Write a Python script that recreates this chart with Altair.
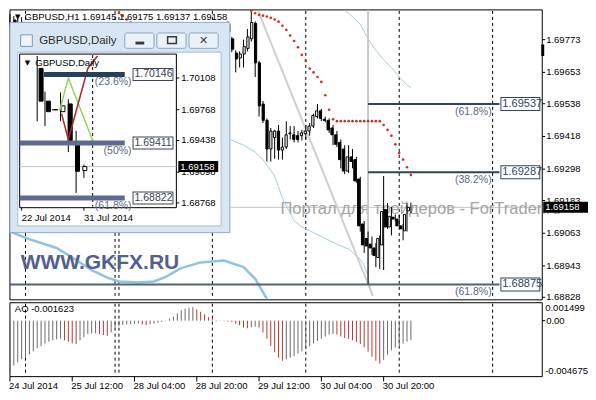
import altair as alt
import pandas as pd
import numpy as np

W, H = 580, 384
SX, SY = W / 596.0, H / 400.0
def px(v): return round(v * SX, 2)
def py(v): return round(v * SY, 2)
FONT = "Liberation Sans"

# ---------------- main H1 chart data ----------------
bar_idx = [0, 1, 2, 3] + list(range(56, 104))
opens = [1.69845, 1.69830, 1.69815, 1.69835,
         1.69829, 1.69776, 1.69724, 1.69706, 1.69720, 1.69741, 1.69776, 1.69833, 1.69688, 1.69537,
         1.69477, 1.69372, 1.69414, 1.69438, 1.69368, 1.69379, 1.69428, 1.69424, 1.69421, 1.69421,
         1.69428, 1.69438, 1.69456, 1.69491, 1.69512, 1.69481, 1.69477, 1.69449, 1.69424, 1.69396,
         1.69372, 1.69291, 1.69343, 1.69333, 1.69262, 1.69097, 1.69044, 1.69023, 1.69009, 1.68974,
         1.69020, 1.69150, 1.69086, 1.69122, 1.69115, 1.69090, 1.69072, 1.69145]
highs = [1.69868, 1.69860, 1.69850, 1.69855,
         1.69840, 1.69783, 1.69734, 1.69730, 1.69773, 1.69812, 1.69879, 1.69840, 1.69695, 1.69548,
         1.69484, 1.69449, 1.69442, 1.69460, 1.69414, 1.69474, 1.69456, 1.69456, 1.69438, 1.69442,
         1.69460, 1.69467, 1.69502, 1.69537, 1.69519, 1.69491, 1.69484, 1.69460, 1.69438, 1.69407,
         1.69386, 1.69386, 1.69372, 1.69343, 1.69270, 1.69108, 1.69069, 1.69051, 1.69027, 1.69055,
         1.69273, 1.69174, 1.69160, 1.69132, 1.69132, 1.69097, 1.69174, 1.69175]
lows = [1.69820, 1.69800, 1.69790, 1.69770,
        1.69790, 1.69727, 1.69653, 1.69671, 1.69671, 1.69730, 1.69766, 1.69636, 1.69491, 1.69467,
        1.69326, 1.69326, 1.69336, 1.69333, 1.69333, 1.69372, 1.69407, 1.69396, 1.69396, 1.69403,
        1.69407, 1.69421, 1.69449, 1.69484, 1.69474, 1.69470, 1.69431, 1.69386, 1.69379, 1.69301,
        1.69280, 1.69284, 1.69301, 1.69248, 1.69069, 1.68991, 1.68875, 1.68984, 1.68939, 1.68932,
        1.68928, 1.69079, 1.69055, 1.69108, 1.69086, 1.69037, 1.69069, 1.69137]
closes = [1.69830, 1.69815, 1.69835, 1.69785,
          1.69801, 1.69738, 1.69702, 1.69720, 1.69748, 1.69783, 1.69836, 1.69688, 1.69530, 1.69477,
          1.69372, 1.69438, 1.69438, 1.69368, 1.69379, 1.69424, 1.69431, 1.69407, 1.69407, 1.69431,
          1.69438, 1.69456, 1.69495, 1.69512, 1.69484, 1.69477, 1.69442, 1.69424, 1.69389, 1.69333,
          1.69291, 1.69343, 1.69326, 1.69255, 1.69090, 1.69020, 1.69016, 1.69009, 1.68981, 1.69044,
          1.69143, 1.69086, 1.69125, 1.69115, 1.69090, 1.69079, 1.69132, 1.69158]

sar_idx = [28, 29, 30, 31] + list(range(62, 104))
sar_val = [1.69871, 1.69861, 1.69847, 1.69836,
           1.69879, 1.69870, 1.69864, 1.69861, 1.69858, 1.69853, 1.69847, 1.69839, 1.69824, 1.69809,
           1.69788, 1.69768, 1.69745, 1.69717, 1.69695, 1.69667, 1.69653, 1.69636, 1.69618, 1.69569,
           1.69516, 1.69481, 1.69474, 1.69474, 1.69474, 1.69474, 1.69474, 1.69474, 1.69474, 1.69474,
           1.69474, 1.69474, 1.69474, 1.69474, 1.69460, 1.69442, 1.69421, 1.69389, 1.69357, 1.69333,
           1.69305, 1.69277]

upper_idx = [86, 88, 90, 92, 94, 96, 98, 100, 102, 103]
upper_val = [1.69882, 1.69857, 1.69829, 1.69776, 1.69734, 1.69699, 1.69671, 1.69636, 1.69607, 1.69597]
lower_idx = [56, 60, 63, 65, 68, 70, 73, 75, 80, 84, 87, 90, 91, 92, 93]
lower_val = [1.69410, 1.69386, 1.69361, 1.69333, 1.69273, 1.69192, 1.69108, 1.69086, 1.69051,
             1.69023, 1.69005, 1.68967, 1.68946, 1.68903, 1.68833]
thick_idx = [0, 5, 8, 12, 16, 21, 25, 28, 33, 37, 40, 44, 49, 55, 60, 63, 65, 66]
thick_val = [1.69069, 1.69041, 1.69027, 1.69009, 1.68974, 1.68928, 1.68900, 1.68886, 1.68882,
             1.68886, 1.68903, 1.68935, 1.68956, 1.68963, 1.68939, 1.68896, 1.68847, 1.68822]

trend_idx = [63.75, 93.25]
trend_val = [1.69879, 1.68833]

fib_levels = [1.69537, 1.69287, 1.68875]
fib_pct = ["(61.8%)", "(38.2%)", "(61.8%)"]
fib_start = [92, 92, 0]
fib_end = 125.75
anchor_bar = 92

separators = [4, 27, 28, 52, 76, 100, 124]
price_ticks = [1.69773, 1.69653, 1.69538, 1.69418, 1.69298, 1.69183, 1.69063, 1.68943, 1.68828]
time_ticks = [0, 16, 32, 48, 64, 80, 96]
time_labels = ["24 Jul 2014", "25 Jul 12:00", "28 Jul 04:00", "28 Jul 20:00",
               "29 Jul 12:00", "30 Jul 04:00", "30 Jul 20:00"]

ao = [-0.00427, -0.00375, -0.00348, -0.00322, -0.00309, -0.00282, -0.00256, -0.00230, -0.00211, -0.00190,
      -0.00177, -0.00164, -0.00156, -0.00150, -0.00164, -0.00177, -0.00190, -0.00195, -0.00164, -0.00137,
      -0.00111, -0.00108, -0.00106, -0.00113, -0.00121, -0.00127, -0.00098, -0.00058, -0.00045, -0.00037,
      -0.00032, -0.00029, -0.00026, -0.00024, -0.00032, -0.00037, -0.00032, -0.00026, -0.00018, -0.00011,
      -0.00003, 0.00016, 0.00034, 0.00061, 0.00087, 0.00100, 0.00108, 0.00113, 0.00095, 0.00074,
      0.00053, 0.00029, 0.00013, -0.00005, -0.00003, -0.00005, -0.00008, -0.00013, -0.00026, -0.00040,
      -0.00058, -0.00063, -0.00055, -0.00050, -0.00058, -0.00098, -0.00150, -0.00211, -0.00264, -0.00309,
      -0.00335, -0.00322, -0.00309, -0.00296, -0.00274, -0.00256, -0.00237, -0.00216, -0.00190, -0.00169,
      -0.00150, -0.00132, -0.00116, -0.00111, -0.00116, -0.00132, -0.00145, -0.00153, -0.00164, -0.00179,
      -0.00195, -0.00222, -0.00259, -0.00301, -0.00335, -0.00359, -0.00327, -0.00285, -0.00248, -0.00225,
      -0.00208, -0.00192, -0.00176, -0.001623]
AO_MAX, AO_MIN = 0.001499, -0.004675

# ---------------- inset Daily chart data ----------------
d_idx = [2, 3, 4, 5, 6, 7, 8]
d_open = [1.70211, 1.69860, 1.69770, 1.69747, 1.69830, 1.69386, 1.69115]
d_high = [1.70345, 1.69963, 1.69775, 1.69953, 1.69881, 1.69541, 1.69180]
d_low = [1.69644, 1.69593, 1.69760, 1.69644, 1.69314, 1.68875, 1.69037]
d_close = [1.69860, 1.69747, 1.69766, 1.69809, 1.69438, 1.69108, 1.69158]
d_fib = [1.70146, 1.69411, 1.68822]
d_fib_pct = ["(23.6%)", "(50%)", "(61.8%)"]
d_fib_start = [2.875, -0.25, -0.25]
d_fib_end = 13.25
d_red_idx = [5.125, 6.0, 8.5, 9.75]
d_red_val = [1.69726, 1.69448, 1.70211, 1.70345]
d_green_idx = [4.875, 6.0, 9.125]
d_green_val = [1.69757, 1.70108, 1.69438]
d_ticks = [1.70108, 1.69768, 1.69438, 1.69098, 1.68768]
d_dates = [0, 8]
d_date_labels = ["22 Jul 2014", "31 Jul 2014"]
d_sep = [9.125]

# ---------------- scales ----------------
def sc(domain, rng):
    return alt.Scale(domain=domain, range=rng, nice=False, zero=False)

MX = sc([0, 136.75], [px(2), px(549)])
MY = sc([1.688187, 1.698821], [py(304), py(2)])
AOY = sc([AO_MIN, AO_MAX], [py(384), py(307)])
IX = sc([-0.25, 19.875], [px(12), px(173)])
IY = sc([1.68717, 1.70365], [py(208), py(48)])

def X(f, s): return alt.X(f, type="quantitative", scale=s, axis=None)
def Y(f, s): return alt.Y(f, type="quantitative", scale=s, axis=None)

ONE = pd.DataFrame({"k": [0]})

def vbox(x1, y1, x2, y2, **mk):
    return alt.Chart(ONE).mark_rect(**mk).encode(
        x=alt.value(px(x1)), x2=alt.value(px(x2)), y=alt.value(py(y1)), y2=alt.value(py(y2)))

def vtext(text, x, y, **mk):
    mk.setdefault("font", FONT)
    mk.setdefault("baseline", "middle")
    return alt.Chart(ONE).mark_text(text=text, **mk).encode(x=alt.value(px(x)), y=alt.value(py(y)))

# ---------------- frames ----------------
candles = pd.DataFrame({"i": bar_idx, "o": opens, "h": highs, "l": lows, "c": closes})
candles["dir"] = np.where(candles["c"] >= candles["o"], "up", "down")
sar = pd.DataFrame({"i": sar_idx, "p": sar_val})
upper = pd.DataFrame({"i": upper_idx, "p": upper_val})
lower = pd.DataFrame({"i": lower_idx, "p": lower_val})
thick = pd.DataFrame({"i": thick_idx, "p": thick_val})
trend = pd.DataFrame({"i": trend_idx, "p": trend_val})
fib = pd.DataFrame({"p": fib_levels, "pct": fib_pct, "s": fib_start, "e": fib_end,
                    "lbl": [f"{v:.5f}" for v in fib_levels]})
seps = pd.DataFrame({"i": separators})
pt = pd.DataFrame({"p": price_ticks, "lbl": [f"{v:.5f}" for v in price_ticks]})
tt = pd.DataFrame({"i": time_ticks, "lbl": time_labels})
last = pd.DataFrame({"p": [closes[-1]], "lbl": [f"{closes[-1]:.5f}"]})
anchor = pd.DataFrame({"i": [anchor_bar], "p": [fib_levels[2]], "p2": [upper_val[0]]})
aodf = pd.DataFrame({"i": list(range(len(ao))), "ao": ao})
aodf["dir"] = np.where(aodf["ao"].diff().fillna(1) > 0, "up", "down")
aoax = pd.DataFrame({"v": [0.0], "lbl": ["0.00"]})

daily = pd.DataFrame({"i": d_idx, "o": d_open, "h": d_high, "l": d_low, "c": d_close})
daily["dir"] = np.where(daily["c"] >= daily["o"], "up", "down")
dfib = pd.DataFrame({"p": d_fib, "pct": d_fib_pct, "s": d_fib_start, "e": d_fib_end,
                     "lbl": [f"{v:.5f}" for v in d_fib]})
dred = pd.DataFrame({"i": d_red_idx, "p": d_red_val})
dgreen = pd.DataFrame({"i": d_green_idx, "p": d_green_val})
dticks = pd.DataFrame({"p": d_ticks, "lbl": [f"{v:.5f}" for v in d_ticks]})
ddates = pd.DataFrame({"i": d_dates, "lbl": d_date_labels})
dsep = pd.DataFrame({"i": d_sep})
dlast = pd.DataFrame({"p": [d_close[-1]], "lbl": [f"{d_close[-1]:.5f}"], "a": [-0.25], "b": [19.875]})

DIR = alt.Scale(domain=["up", "down"], range=["white", "black"])

L = []
# panels
L.append(vbox(2, 2, 549, 304, fill="white", stroke="black", strokeWidth=1))
L.append(vbox(2, 307, 549, 384, fill="white", stroke="black", strokeWidth=1))
L.append(alt.Chart(seps).mark_rule(color="black", strokeDash=[3, 3], strokeWidth=1).encode(
    x=X("i", MX), y=alt.value(py(3)), y2=alt.value(py(303))))
L.append(alt.Chart(seps).mark_rule(color="black", strokeDash=[3, 3], strokeWidth=1).encode(
    x=X("i", MX), y=alt.value(py(308)), y2=alt.value(py(383))))
# current price line
L.append(alt.Chart(last).mark_rule(color="#c4c4c4", strokeWidth=1).encode(
    y=Y("p", MY), x=alt.value(px(2)), x2=alt.value(px(549))))
# watermark
L.append(vtext("Портал для трейдеров - ForTrader.ru", 280, 209, align="left", fontSize=16.5,
               color="#a3a3a3"))
# bands
L.append(alt.Chart(upper).mark_line(color="#a6cde0", strokeWidth=1).encode(x=X("i", MX), y=Y("p", MY)))
L.append(alt.Chart(lower).mark_line(color="#a6cde0", strokeWidth=1).encode(x=X("i", MX), y=Y("p", MY)))
L.append(alt.Chart(thick).mark_line(color="#8cc4e2", strokeWidth=2.5).encode(x=X("i", MX), y=Y("p", MY)))
# anchor vertical + trendline
L.append(alt.Chart(anchor).mark_rule(color="#c8c8c8", strokeWidth=2).encode(
    x=X("i", MX), y=Y("p", MY), y2="p2"))
L.append(alt.Chart(trend).mark_line(color="#cfcfcf", strokeWidth=2).encode(x=X("i", MX), y=Y("p", MY)))
# candles
L.append(alt.Chart(candles).mark_rule(color="black", strokeWidth=1).encode(
    x=X("i", MX), y=Y("l", MY), y2="h"))
L.append(alt.Chart(candles).mark_bar(size=2.2, stroke="black", strokeWidth=1).encode(
    x=X("i", MX), y=Y("o", MY), y2="c", fill=alt.Fill("dir:N", scale=DIR, legend=None)))
# SAR
L.append(alt.Chart(sar).mark_circle(size=7, color="#d42b2b", opacity=1).encode(x=X("i", MX), y=Y("p", MY)))
# fib lines
L.append(alt.Chart(fib[fib["s"] > 0]).mark_rule(color="#2d4560", strokeWidth=2).encode(
    x=X("s", MX), x2="e", y=Y("p", MY)))
L.append(alt.Chart(fib[fib["s"] == 0]).mark_rule(color="#51617f", strokeWidth=2).encode(
    x=X("s", MX), x2="e", y=Y("p", MY)))
L.append(alt.Chart(fib).mark_rule(color="#2d4560", strokeWidth=14).encode(
    y=Y("p", MY), x=alt.value(px(506)), x2=alt.value(px(547))))
L.append(alt.Chart(fib).mark_rule(color="white", strokeWidth=12).encode(
    y=Y("p", MY), x=alt.value(px(507)), x2=alt.value(px(546))))
L.append(alt.Chart(fib).mark_text(font=FONT, fontSize=11, color="#2d4560", align="left", baseline="middle").encode(
    y=Y("p", MY), x=alt.value(px(508)), text="lbl"))
L.append(alt.Chart(fib).mark_text(font=FONT, fontSize=10.5, color="#5b6880", align="right",
                                  baseline="middle", dy=8).encode(
    y=Y("p", MY), x=alt.value(px(497)), text="pct"))
# right price axis
L.append(alt.Chart(pt).mark_rule(color="black").encode(
    y=Y("p", MY), x=alt.value(px(549)), x2=alt.value(px(552))))
L.append(alt.Chart(pt).mark_text(font=FONT, fontSize=9.5, color="black", align="left", baseline="middle").encode(
    y=Y("p", MY), x=alt.value(px(553)), text="lbl"))
L.append(alt.Chart(last).mark_rule(color="black", strokeWidth=11).encode(
    y=Y("p", MY), x=alt.value(px(550)), x2=alt.value(px(596))))
L.append(alt.Chart(last).mark_text(font=FONT, fontSize=9.5, color="white", align="left", baseline="middle").encode(
    y=Y("p", MY), x=alt.value(px(552)), text="lbl"))
L.append(vbox(548, 38, 551, 50, fill="black"))
# header
header = f"GBPUSD,H1  {opens[-1]:.5f} {highs[-1]:.5f} {lows[-1]:.5f} {closes[-1]:.5f}"
L.append(vtext(header, 17, 9, align="left", fontSize=9.5, color="black"))
L.append(vtext("▼", 10, 9, align="center", fontSize=7, color="black", font="DejaVu Sans"))
# AO
L.append(alt.Chart(aodf).mark_rule(strokeWidth=1).encode(
    x=X("i", MX), y=Y("ao", AOY), y2=alt.datum(0),
    color=alt.Color("dir:N", scale=alt.Scale(domain=["up", "down"], range=["#6a6a6a", "#b23a3a"]), legend=None)))
L.append(vtext(f"AO {ao[-1]:.6f}", 7, 314, align="left", fontSize=9.5, color="black"))
L.append(vtext(f"{AO_MAX:.6f}", 552, 313, align="left", fontSize=9.5, color="black"))
L.append(vtext(f"{AO_MIN:.6f}", 552, 378, align="left", fontSize=9.5, color="black"))
L.append(alt.Chart(aoax).mark_text(font=FONT, fontSize=9.5, color="black", align="left", baseline="middle").encode(
    y=Y("v", AOY), x=alt.value(px(553)), text="lbl"))
L.append(alt.Chart(aoax).mark_rule(color="black").encode(
    y=Y("v", AOY), x=alt.value(px(549)), x2=alt.value(px(552))))
# time axis
L.append(alt.Chart(tt).mark_rule(color="black").encode(
    x=X("i", MX), y=alt.value(py(384)), y2=alt.value(py(389))))
L.append(alt.Chart(tt).mark_text(font=FONT, fontSize=9.5, color="black", align="left", baseline="middle", dx=-1).encode(
    x=X("i", MX), y=alt.value(py(394)), text="lbl"))
# GKFX
L.append(vtext("WWW.GKFX.RU", 13, 266, align="left", fontSize=21, fontWeight="bold", color="#52618f"))

# ---------------- inset window ----------------
L.append(vbox(2, 15, 228, 234, fill="#d8e6f4", stroke="#90aac4", strokeWidth=1))
L.append(vbox(13, 28, 25, 40, fill="#eef4fa", stroke="#7d98b6", strokeWidth=1))
L.append(vtext("GBPUSD,Daily", 32, 34, align="left", fontSize=11.5, color="#2e2e2e"))
for bx in (120, 153, 186):
    L.append(vbox(bx, 26, bx + 30, 42, fill="#eaf1f9", stroke="#8ea6c0", strokeWidth=1, cornerRadius=2))
L.append(vbox(131, 35, 140, 38, fill="#3a3a3a"))
L.append(vbox(164, 30, 173, 37, fill="none", stroke="#3a3a3a", strokeWidth=1.5))
L.append(vtext("✕", 201, 34, align="center", fontSize=11, color="#3a3a3a", font="DejaVu Sans"))
L.append(vbox(10, 46, 219, 227, fill="white", stroke="#a8bed6", strokeWidth=1))
L.append(vbox(12, 48, 173, 208, fill="white", stroke="black", strokeWidth=1))
L.append(alt.Chart(dlast).mark_rule(color="#c4c4c4").encode(x=X("a", IX), x2="b", y=Y("p", IY)))
L.append(alt.Chart(dsep).mark_rule(color="black", strokeDash=[3, 3]).encode(
    x=X("i", IX), y=alt.value(py(49)), y2=alt.value(py(207))))
L.append(alt.Chart(daily).mark_rule(color="black", strokeWidth=1).encode(x=X("i", IX), y=Y("l", IY), y2="h"))
L.append(alt.Chart(daily).mark_bar(size=4, stroke="black", strokeWidth=1).encode(
    x=X("i", IX), y=Y("o", IY), y2="c", fill=alt.Fill("dir:N", scale=DIR, legend=None)))
L.append(alt.Chart(dgreen).mark_line(color="#93d25a", strokeWidth=1.5).encode(x=X("i", IX), y=Y("p", IY)))
L.append(alt.Chart(dred).mark_line(color="#b3262a", strokeWidth=1.5).encode(x=X("i", IX), y=Y("p", IY)))
L.append(alt.Chart(dfib[dfib["s"] > 0]).mark_rule(color="#24405d", strokeWidth=5).encode(
    x=X("s", IX), x2="e", y=Y("p", IY)))
L.append(alt.Chart(dfib[dfib["s"] < 0]).mark_rule(color="#5d6c8e", strokeWidth=5).encode(
    x=X("s", IX), x2="e", y=Y("p", IY)))
L.append(alt.Chart(dfib).mark_text(font=FONT, fontSize=10.5, color="#5b6880", align="right",
                                   baseline="middle", dy=8).encode(
    x=alt.value(px(127)), y=Y("p", IY), text="pct"))
L.append(alt.Chart(dfib).mark_rule(color="#3a4454", strokeWidth=13).encode(
    y=Y("p", IY), x=alt.value(px(128)), x2=alt.value(px(170))))
L.append(alt.Chart(dfib).mark_rule(color="white", strokeWidth=11).encode(
    y=Y("p", IY), x=alt.value(px(129)), x2=alt.value(px(169))))
L.append(alt.Chart(dfib).mark_text(font=FONT, fontSize=10.5, color="#3a4454", align="left", baseline="middle").encode(
    y=Y("p", IY), x=alt.value(px(130)), text="lbl"))
L.append(alt.Chart(dticks).mark_rule(color="black").encode(
    y=Y("p", IY), x=alt.value(px(173)), x2=alt.value(px(176))))
L.append(alt.Chart(dticks).mark_text(font=FONT, fontSize=9.5, color="black", align="left", baseline="middle").encode(
    y=Y("p", IY), x=alt.value(px(178)), text="lbl"))
L.append(alt.Chart(dlast).mark_rule(color="black", strokeWidth=11).encode(
    y=Y("p", IY), x=alt.value(px(175)), x2=alt.value(px(216))))
L.append(alt.Chart(dlast).mark_text(font=FONT, fontSize=9.5, color="white", align="left", baseline="middle").encode(
    y=Y("p", IY), x=alt.value(px(177)), text="lbl"))
L.append(alt.Chart(ddates).mark_rule(color="black").encode(
    x=X("i", IX), y=alt.value(py(208)), y2=alt.value(py(211))))
L.append(alt.Chart(ddates).mark_text(font=FONT, fontSize=9.5, color="black", align="left", baseline="middle").encode(
    x=X("i", IX), y=alt.value(py(219)), text="lbl"))
L.append(vtext("▼", 20, 57, align="center", fontSize=7, color="black", font="DejaVu Sans"))
L.append(vtext("GBPUSD,Daily", 28, 57, align="left", fontSize=9.5, color="black"))

chart = alt.layer(*L).resolve_scale(
    x="independent", y="independent", color="independent", fill="independent"
).properties(
    width=W, height=H, padding=0, autosize=alt.AutoSizeParams(type="none"), background="white"
).configure_view(stroke=None)

chart.save("out.html", embed_options={"renderer": "svg", "actions": False})
